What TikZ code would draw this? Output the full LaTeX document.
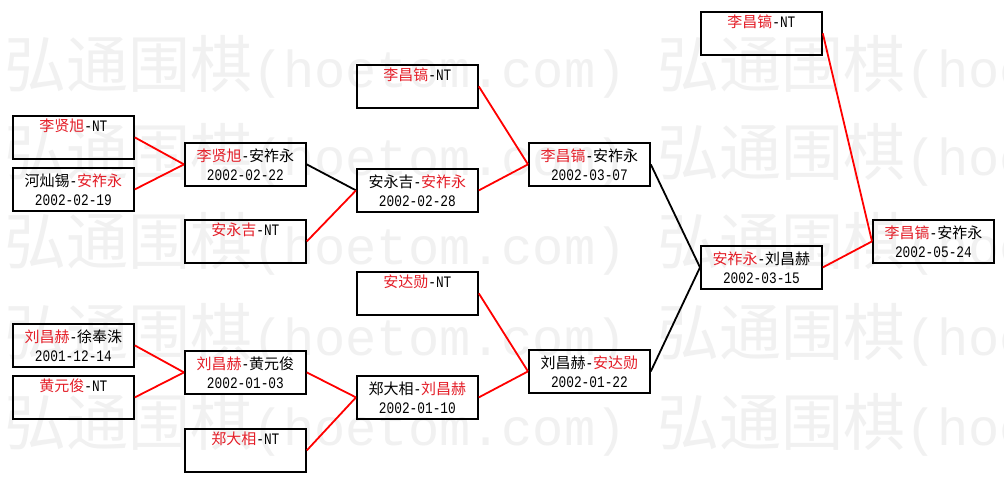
\documentclass[tikz,border=0pt]{standalone}
\usepackage{fontspec}
\setmainfont{Noto Sans CJK SC}
\newfontfamily\ascfont[FakeStretch=0.8]{Liberation Mono}
\newfontfamily\wmascfont{Liberation Mono}
\definecolor{tred}{RGB}{228,30,40}
\definecolor{wmgray}{RGB}{241,241,241}
\newcommand\R[1]{\textcolor{tred}{#1}}
\newcommand\A[1]{{\fontsize{16}{19}\ascfont #1}}
\newcommand\WA[1]{{\fontsize{52}{52}\wmascfont #1}}
\begin{document}
\begin{tikzpicture}[x=1pt,y=-1pt,
  box/.style={draw=black, line width=1.8pt, rectangle, anchor=north west,
    fill=white, fill opacity=0, text opacity=1,
    minimum width=121pt, minimum height=43pt, inner sep=0pt, align=center,
    font=\fontsize{15}{19}\selectfont},
  win/.style={draw=red, line width=1.8pt},
  lose/.style={draw=black, line width=1.8pt},
  wm/.style={anchor=west, text=wmgray, inner sep=0pt, font=\fontsize{62}{62}\selectfont}]
\useasboundingbox[fill=white] (0,0) rectangle (1004,481);
% watermark
\foreach \yy in {67,155,244,335,425}{
  \node[wm] (wm\yy) at (4,\yy) {弘通围棋\WA{(hoetom.com)}\WA{ }弘通围棋\WA{(hoetom.com)}};
}
% round 1
\node[box] (a1) at (12,115) {\R{李贤旭}\A{-NT}\\\strut};
\node[box] (a2) at (12,167) {河灿锡\A{-}\R{安祚永}\\\A{2002-02-19}};
\node[box] (a3) at (12,323) {\R{刘昌赫}\A{-}徐奉洙\\\A{2001-12-14}};
\node[box] (a4) at (12,375) {\R{黄元俊}\A{-NT}\\\strut};
% round 2
\node[box] (b1) at (184,142) {\R{李贤旭}\A{-}安祚永\\\A{2002-02-22}};
\node[box] (b2) at (184,219) {\R{安永吉}\A{-NT}\\\strut};
\node[box] (b3) at (184,350) {\R{刘昌赫}\A{-}黄元俊\\\A{2002-01-03}};
\node[box] (b4) at (184,428) {\R{郑大相}\A{-NT}\\\strut};
% round 3
\node[box] (c1) at (356,64) {\R{李昌镐}\A{-NT}\\\strut};
\node[box] (c2) at (356,168) {安永吉\A{-}\R{安祚永}\\\A{2002-02-28}};
\node[box] (c3) at (356,271) {\R{安达勋}\A{-NT}\\\strut};
\node[box] (c4) at (356,375) {郑大相\A{-}\R{刘昌赫}\\\A{2002-01-10}};
% round 4
\node[box] (d1) at (528,142) {\R{李昌镐}\A{-}安祚永\\\A{2002-03-07}};
\node[box] (d2) at (528,349) {刘昌赫\A{-}\R{安达勋}\\\A{2002-01-22}};
% round 5
\node[box] (e1) at (700,11) {\R{李昌镐}\A{-NT}\\\strut};
\node[box] (e2) at (700,245) {\R{安祚永}\A{-}刘昌赫\\\A{2002-03-15}};
% final
\node[box] (f) at (872,219) {\R{李昌镐}\A{-}安祚永\\\A{2002-05-24}};
% connectors
\draw[win] (a1.east) -- (b1.west);
\draw[win] (a2.east) -- (b1.west);
\draw[win] (a3.east) -- (b3.west);
\draw[win] (a4.east) -- (b3.west);
\draw[lose] (b1.east) -- (c2.west);
\draw[win] (b2.east) -- (c2.west);
\draw[win] (b3.east) -- (c4.west);
\draw[win] (b4.east) -- (c4.west);
\draw[win] (c1.east) -- (d1.west);
\draw[win] (c2.east) -- (d1.west);
\draw[win] (c3.east) -- (d2.west);
\draw[win] (c4.east) -- (d2.west);
\draw[lose] (d1.east) -- (e2.west);
\draw[lose] (d2.east) -- (e2.west);
\draw[win] (e1.east) -- (f.west);
\draw[win] (e2.east) -- (f.west);
\end{tikzpicture}
\end{document}
